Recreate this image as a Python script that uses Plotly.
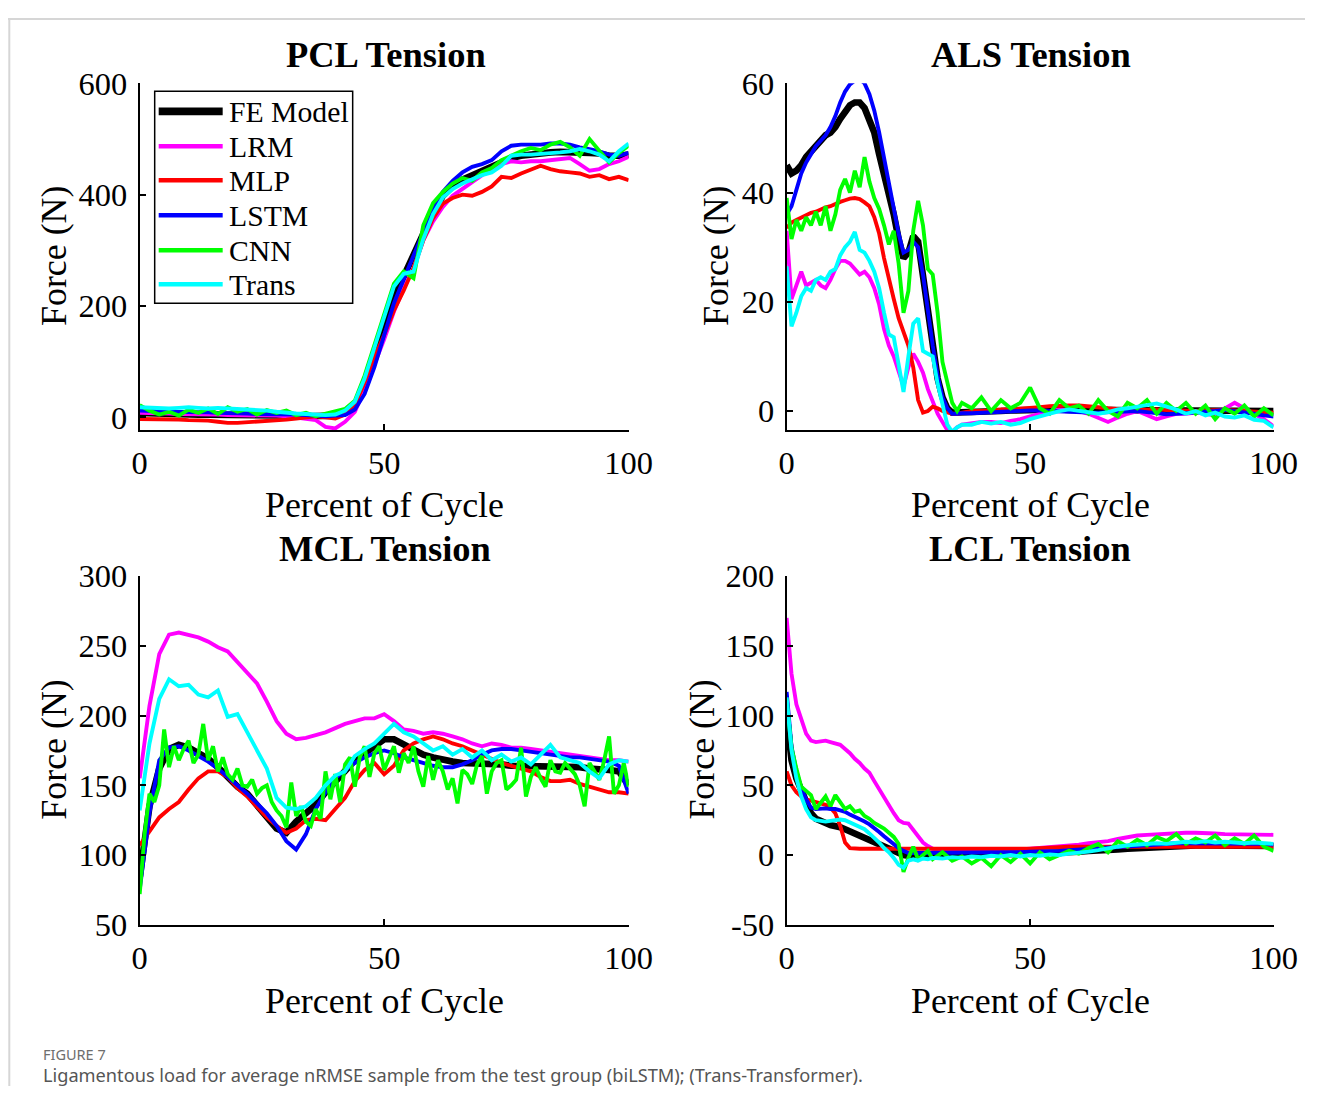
import plotly.graph_objects as go

W, H = 1329, 1104
# The photographed page shows the figure slightly scaled and offset; the
# layout positions below (measured on the reference, in pixels) are mapped
# through that fixed transform so they land where the reference has them.
SX, SY = 0.976, 0.968
AX, AY = 7.3, 17.6

series_names = ["FE Model", "LRM", "MLP", "LSTM", "CNN", "Trans"]
series_colors = ["#000000", "#ff00ff", "#ff0000", "#0000ff", "#00ff00", "#00ffff"]

# ---------------- PCL Tension ----------------
pcl_x = list(range(0, 101, 2))
pcl_fe = [8, 7, 7, 6, 6, 6, 5, 5, 5, 5, 4, 4, 4, 4, 4, 3, 3, 2, 2, 2, 3,
          8, 20, 55, 105, 155, 215, 255, 290, 330, 368,
          398, 415, 427, 435, 442, 450, 458, 466, 470, 473,
          475, 476, 477, 477, 476, 475, 474, 470, 470, 472]
pcl_lrm = [8, 8, 7, 7, 6, 6, 5, 5, 5, 4, 4, 4, 3, 3, 3, 2, 0, -3, -5, -17, -20,
           -8, 10, 50, 95, 140, 190, 232, 268, 318, 352,
           378, 398, 410, 422, 436, 447, 455, 460, 458, 460,
           460, 462, 464, 466, 455, 443, 446, 455, 460, 468]
pcl_mlp = [-3, -3, -4, -4, -4, -5, -5, -6, -8, -10, -10, -9, -8, -6, -5, -4, -2, 0, 2, 0, -2,
           5, 22, 62, 108, 148, 192, 228, 268, 318, 358,
           384, 394, 400, 398, 405, 415, 432, 430, 438, 445,
           452, 446, 442, 440, 438, 432, 435, 428, 432, 426]
pcl_lstm = [12, 12, 11, 10, 10, 10, 9, 9, 8, 8, 7, 7, 6, 6, 6, 5, 5, 4, 3, 2, 3,
            4, 14, 42, 90, 145, 205, 248, 290, 335, 375,
            405, 425, 440, 450, 455, 462, 478, 488, 490, 490,
            490, 492, 492, 490, 485, 482, 478, 472, 470, 475]
pcl_cnn = [22, 12, 5, 10, 3, 14, 8, 16, 6, 18, 10, 15, 5, 13, 8, 12, 4, 8, 2, 6, 10,
           15, 30, 75, 130, 185, 240, 262, 250, 345, 385,
           405, 420, 430, 425, 440, 448, 462, 470, 478, 484,
           480, 490, 495, 485, 470, 500, 480, 458, 475, 488]
pcl_trans = [18, 17, 16, 16, 17, 18, 17, 16, 17, 16, 15, 14, 14, 12, 10, 8, 7, 6, 5, 4, 5,
             12, 28, 70, 125, 180, 235, 258, 262, 320, 365,
             395, 410, 420, 428, 435, 440, 452, 470, 472, 472,
             473, 474, 476, 478, 482, 478, 472, 460, 478, 492]

# ---------------- ALS Tension ----------------
als_x = list(range(0, 37)) + list(range(38, 101, 2))
als_fe = [45, 43.5, 44, 45, 46.5, 47.5, 48.5, 49.5, 50.5, 51,
          52, 53.5, 55, 56, 56.5, 56.5, 55.5, 53.5, 51, 47,
          43.5, 39.5, 36, 31.5, 28, 29, 32, 31, 25, 17,
          11, 6, 2.5, 0.5, -0.3, -0.3, -0.2,
          -0.2, -0.1, 0, 0, 0.1, 0.2, 0.2, 0.3, 0.3, 0.3,
          0.2, 0.2, 0.1, 0.1, 0, 0, 0, 0, 0, 0,
          0, 0, 0, 0, 0, 0, 0, 0, 0, 0, 0, 0]
als_lrm = [33, 20.5, 23, 25.5, 23, 23.5, 24, 23, 22.5, 24,
           26, 27.5, 27.5, 27, 26, 25, 25.5, 24.5, 22.5, 19.5,
           15, 12, 10, 7, 4.5, 8, 10.5, 9, 7, 4,
           1.5, -0.5, -2, -3.5, -3.8, -3, -2.5,
           -2.3, -2, -2, -2.2, -1.8, -1.5, -1, -0.5, 0, 0.3,
           0.2, 0, -0.5, -1.3, -2, -1.2, -0.5, 0, -0.8, -1.5,
           -1, -0.5, -0.5, -0.3, -0.5, -0.8, 0.5, 1.5, 0.5, -0.5, -1.5, -2.8]
als_mlp = [33.5, 34.5, 35, 35.5, 36, 36.3, 36.5, 37, 37.3, 37.5,
           38, 38.3, 38.6, 38.9, 39, 38.8, 38.2, 37.5, 35.5, 32.5,
           28, 24, 20.5, 17, 14.5, 12, 8, 2, -0.3, 0,
           0.8, 0.5, 0, -0.3, -0.5, -0.5, -0.3,
           0, 0, 0.2, 0.3, 0.3, 0.4, 0.5, 0.7, 0.9, 1,
           1, 1, 0.9, 0.7, 0.5, 0.3, 0.2, 0.2, 0.3, 0.3,
           0.2, 0.1, 0, 0, 0.1, 0.2, 0.2, 0.1, 0, 0, -0.2, -0.3]
als_lstm = [36, 37.5, 40.5, 43.5, 45.5, 47, 48.5, 49.5, 50.5, 52,
            54, 56.5, 58.5, 59.8, 60.5, 60.8, 60, 58, 55, 51,
            46.5, 42, 37, 32.5, 29, 29.5, 31, 30, 25, 18,
            12, 6.5, 2.5, 0.5, -0.5, -0.5, -0.4,
            -0.4, -0.3, -0.2, -0.1, 0, 0, 0.1, 0.1, 0, 0,
            -0.1, -0.2, -0.3, -0.3, -0.2, -0.1, 0, 0, -0.2, -0.4,
            -0.6, -0.5, -0.4, -0.3, -0.2, 0, 0.2, 0, -0.3, -0.5, -0.8, -1]
als_cnn = [39, 31.5, 35, 33, 35.5, 34, 36.5, 34, 37.5, 33,
           36, 40.5, 42.5, 40, 44, 41, 46.5, 42, 39, 37,
           34, 30.5, 33, 27, 18, 22, 33, 38.5, 34, 26,
           25, 18, 9, 5, 1.5, 0, 1.5,
           0.5, 2.5, 0, 2, 0.5, 1.5, 4.3, 0.5, -0.5, 2,
           0.5, 1, -0.5, 2, 0, -1, 1.5, 0.5, 2, -0.5,
           1.5, 0, 1.5, -0.5, 1, -1.5, 0.5, -0.5, 1, -1, 0.5, -0.8]
als_trans = [26.5, 15.5, 18, 21, 22.5, 22, 24, 24.5, 24, 25.5,
             26, 28.5, 30, 31, 32.8, 29.5, 29, 27.5, 25.5, 22.5,
             18, 14, 13.5, 8, 3.5, 10, 16, 17, 11, 10.5,
             10, 5, 1, -2.5, -3.8, -3, -2.5,
             -2.5, -2, -2.3, -2, -2.5, -2.2, -1.5, -1, -0.5, 0,
             0.3, 0, -0.3, -0.5, -0.2, 0.3, 0.5, 0.8, 1, 1.4,
             0.8, 0.3, -0.5, 0, -0.8, -0.3, -1, -1.2, -0.8, -1.6, -1.8, -3]

# ---------------- MCL Tension ----------------
mcl_x = list(range(0, 101, 2))
mcl_fe = [84, 135, 162, 176, 179, 177, 173, 169, 163, 156,
          149, 144, 136, 127, 119, 116, 124, 130, 136, 145,
          153, 161, 168, 173, 178, 183, 183, 179, 175, 172,
          170, 168, 167, 166, 166, 165, 165, 165, 164, 164,
          164, 164, 163, 163, 163, 163, 162, 162, 161, 160, 150]
mcl_lrm = [155, 207, 244, 258, 259.5, 258, 256, 253, 249, 246,
           238, 230, 223, 210, 196, 187, 183, 184, 186, 188,
           191, 194, 196, 198, 198, 201, 196, 190, 189, 187,
           188, 187, 185, 183, 180, 178, 180, 179, 177, 177,
           176, 175, 174, 173, 172, 171, 170, 169, 168, 168, 167]
mcl_mlp = [107, 117, 127, 133, 138, 147, 155, 160, 160, 156,
           148, 142, 134, 127, 121, 116, 119, 125, 126, 125,
           133, 141, 153, 161, 166, 158, 164, 175, 180, 183,
           185, 183, 180, 178, 175, 172, 169, 166, 164, 162,
           160, 156, 153, 153, 154, 151, 149, 147, 145, 145, 144]
mcl_lstm = [75, 130, 168, 177, 178, 175, 171, 167, 162, 156,
            150, 144, 137, 130, 121, 110, 104, 115, 133, 145,
            155, 161, 166, 170, 173, 175, 173, 170, 168, 166,
            164, 163, 163, 165, 168, 172, 175, 176, 176, 175,
            174, 173, 172, 171, 170, 170, 169, 168, 167, 164, 144]
mcl_cnn_x = list(range(0, 101))
mcl_cnn = [72, 115, 144, 138, 150, 190, 163, 178, 168, 176,
           182, 166, 172, 194, 168, 178, 160, 170, 158, 154,
           162, 150, 149, 154, 144, 148, 150, 138, 132, 128,
           120, 152, 128, 135, 124, 121, 133, 126, 160, 140,
           158, 138, 165, 170, 149, 170, 178, 156, 173, 178,
           161, 170, 178, 159, 173, 166, 178, 160, 149, 171,
           154, 168, 160, 147, 155, 137, 161, 158, 151, 165,
           171, 144, 160, 166, 168, 147, 150, 154, 177, 142,
           156, 163, 155, 149, 168, 160, 159, 166, 162, 158,
           150, 135, 166, 160, 154, 168, 185, 144, 150, 166, 149]
mcl_trans = [132, 180, 212, 226, 221, 222, 215, 213, 218, 199,
             201, 188, 176, 162, 141, 134, 133, 135, 141, 150,
             157, 160, 171, 176, 180, 187, 194, 188, 185, 180,
             175, 178, 172, 176, 170, 175, 168, 172, 167, 170,
             165, 172, 179, 170, 168, 166, 160, 155, 165, 168, 167]

# ---------------- LCL Tension ----------------
lcl_x = list(range(0, 31)) + list(range(32, 101, 2))
lcl_fe = [101, 68, 55, 47, 37, 30, 26, 24, 23, 21.5,
          21, 20, 18.5, 17, 15.5, 14, 12.5, 11, 9.5, 8,
          6, 4.5, 2.5, 1, 0, -0.5, -1, -0.5, 0, 0, 0,
          0, 0, 0.5, 0.5, 0.5, 1, 1, 1, 1, 1,
          1, 1.5, 1.5, 2, 2.5, 3, 3, 3.5, 4, 4.5,
          5, 5.5, 6, 6, 6.5, 6.5, 7, 7, 7, 7,
          7, 7, 7, 7, 6.5]
lcl_lrm = [170, 130, 108, 97, 87, 82, 81, 81.5, 82, 81,
           80, 79, 76, 73, 69, 66, 62, 59, 53, 47,
           41, 36, 30, 25, 23, 22.5, 18, 13, 9, 6.5, 4.5,
           3.5, 3.5, 3.5, 3.5, 3.5, 3.5, 3.5, 3.8, 4, 4.5,
           5, 5.5, 6, 6.5, 7.5, 8.5, 9, 10, 11.5, 13,
           14, 14.5, 15, 15, 15.5, 16, 16, 16, 15.5, 15,
           15, 14.5, 14.5, 14.5, 14.5]
lcl_mlp = [60, 50, 45, 42, 40, 39, 38, 37, 36, 34,
           30, 21, 9, 5, 4.5, 4.5, 4.5, 4.5, 4.5, 4.5,
           4.5, 4.3, 4, 4, 4, 4, 4, 4, 4, 4, 4,
           4, 4, 4, 4, 4, 4, 4, 4, 4.2, 4.5,
           5, 5.5, 6, 6, 6, 6, 6, 6, 6, 6,
           6, 6, 6, 6, 6, 6, 6, 6, 6, 6,
           6, 6, 6, 6, 6]
lcl_lstm = [117, 78, 60, 48, 40, 34, 33, 33.5, 33.5, 33,
            33, 32, 31, 29, 27.5, 26, 24, 22, 19.5, 16.5,
            13.5, 10.5, 7.5, 5, 3, 1.5, 1.5, 1.5, 1.5, 1.5, 1.5,
            2, 2, 2, 2, 2, 2, 2, 2, 2, 2.5,
            2.5, 3, 3, 3.5, 4, 4.5, 5, 5.5, 6, 6.5,
            7, 7.5, 8, 8, 8.5, 8.5, 8.5, 8.5, 8.5, 8,
            8, 8, 8, 8, 7.5]
lcl_cnn = [112, 77, 62, 49, 46, 43, 33, 38, 42, 35,
           43, 38, 33, 35, 31, 32, 28, 26, 23, 21,
           19, 16, 13, 8, -12, -2, 6, -3, 0, 3, -3,
           2, -4, -1, -6, -2, -8, 0, -5, 1, -6,
           2, -3, 0, 3, 1, 5, 8, 2, 10, 6,
           11, 7, 13, 10, 15, 8, 12, 9, 14, 7,
           12, 8, 14, 6, 3]
lcl_trans = [113, 75, 55, 42, 33, 27, 25, 24.5, 24, 24.5,
             25, 25.5, 25, 23.5, 22, 20, 18.5, 15.5, 12.5, 9,
             5, 2, -2, -7, -9, -4, -3, -4, -2.5, -3, -2,
             -2.5, -1.5, -2, -1, -1.5, -0.5, -1, 0, -1, 0,
             -0.5, 0.5, 0, 1, 1.5, 2.5, 3.5, 5, 6, 7,
             7.5, 8, 8.5, 8, 9, 9.5, 9, 10, 9, 9.5,
             9, 8.5, 9, 8.5, 8]

# tick values / labels / ranges
x_ticks = [0, 50, 100]
x_ticklabels = ["0", "50", "100"]
pcl_yticks = [0, 200, 400, 600]
pcl_yticklabels = ["0", "200", "400", "600"]
als_yticks = [0, 20, 40, 60]
als_yticklabels = ["0", "20", "40", "60"]
mcl_yticks = [50, 100, 150, 200, 250, 300]
mcl_yticklabels = ["50", "100", "150", "200", "250", "300"]
lcl_yticks = [-50, 0, 50, 100, 150, 200]
lcl_yticklabels = ["-50", "0", "50", "100", "150", "200"]

panels = [
    dict(title="PCL Tension",
         xs=[pcl_x] * 6,
         ys=[pcl_fe, pcl_lrm, pcl_mlp, pcl_lstm, pcl_cnn, pcl_trans],
         yrange=[-23, 600], yticks=pcl_yticks, yticklabels=pcl_yticklabels),
    dict(title="ALS Tension",
         xs=[als_x] * 6,
         ys=[als_fe, als_lrm, als_mlp, als_lstm, als_cnn, als_trans],
         yrange=[-3.5, 60], yticks=als_yticks, yticklabels=als_yticklabels),
    dict(title="MCL Tension",
         xs=[mcl_x, mcl_x, mcl_x, mcl_x, mcl_cnn_x, mcl_x],
         ys=[mcl_fe, mcl_lrm, mcl_mlp, mcl_lstm, mcl_cnn, mcl_trans],
         yrange=[50, 300], yticks=mcl_yticks, yticklabels=mcl_yticklabels),
    dict(title="LCL Tension",
         xs=[lcl_x] * 6,
         ys=[lcl_fe, lcl_lrm, lcl_mlp, lcl_lstm, lcl_cnn, lcl_trans],
         yrange=[-50, 200], yticks=lcl_yticks, yticklabels=lcl_yticklabels),
]

# layout geometry (reference pixels)
col_px = [(139, 628), (786, 1273)]
row_px = [(83, 430), (576, 925)]
title_pos = [(385, 55), (1030, 55), (384, 549), (1029, 549)]
xtitle_pos = [(384, 505), (1030, 505), (384, 1001), (1030, 1001)]
ytitle_pos = [(54, 256), (716, 256), (53, 750), (701, 750)]
legend_box = (154, 91, 352, 303)
legend_rows = [111, 146, 180, 215, 250, 284]
legend_line_x = (158, 222)
legend_text_x = 226


def fx(px):
    return ((px - AX) / SX) / W


def fy(py):
    return 1 - ((py - AY) / SY) / H


K = 1.0 / SX  # size compensation for the photographed scale
SERIF = "Liberation Serif"
fig = go.Figure()

for i, p in enumerate(panels):
    ax = "" if i == 0 else str(i + 1)
    for k in range(6):
        fig.add_trace(go.Scatter(
            x=p["xs"][k], y=p["ys"][k], mode="lines",
            name=series_names[k],
            line=dict(color=series_colors[k], width=(6.5 if k == 0 else 3.8) * K),
            showlegend=False,
            xaxis="x" + ax, yaxis="y" + ax,
        ))
    c = i % 2
    r = i // 2
    common = dict(showgrid=False, zeroline=False, showline=True, linecolor="black",
                  linewidth=2, ticks="inside", ticklen=6, tickwidth=1.5,
                  tickcolor="black", mirror=False,
                  tickfont=dict(family=SERIF, size=32 * K * 0.99, color="black"))
    fig.layout["xaxis" + ax] = dict(
        domain=[fx(col_px[c][0]), fx(col_px[c][1])],
        range=[0, 100], tickmode="array", tickvals=x_ticks, ticktext=x_ticklabels,
        anchor="y" + ax, ticklabelstandoff=3, **common)
    fig.layout["yaxis" + ax] = dict(
        domain=[fy(row_px[r][1]), fy(row_px[r][0])],
        range=p["yrange"], tickmode="array", tickvals=p["yticks"], ticktext=p["yticklabels"],
        anchor="x" + ax, ticklabelstandoff=4, **common)

annotations = []
for i, p in enumerate(panels):
    tx, ty = title_pos[i]
    annotations.append(dict(text=p["title"], x=fx(tx), y=fy(ty), xref="paper", yref="paper",
                            showarrow=False, xanchor="center", yanchor="middle",
                            font=dict(family=SERIF, size=35.6 * K, color="black", weight="bold")))
    ax_, ay_ = xtitle_pos[i]
    annotations.append(dict(text="Percent of Cycle", x=fx(ax_), y=fy(ay_), xref="paper", yref="paper",
                            showarrow=False, xanchor="center", yanchor="middle",
                            font=dict(family=SERIF, size=35 * K, color="black")))
    bx, by = ytitle_pos[i]
    annotations.append(dict(text="Force (N)", x=fx(bx), y=fy(by), xref="paper", yref="paper",
                            showarrow=False, xanchor="center", yanchor="middle", textangle=-90,
                            font=dict(family=SERIF, size=35 * K, color="black")))

shapes = [
    dict(type="line", xref="paper", yref="paper", x0=0.0, x1=1, y0=0.999, y1=0.999,
         line=dict(color="#d6d6d6", width=2)),
    dict(type="line", xref="paper", yref="paper", x0=0.001, x1=0.001, y0=0.999, y1=0,
         line=dict(color="#d6d6d6", width=2)),
    dict(type="rect", xref="paper", yref="paper",
         x0=fx(legend_box[0]), x1=fx(legend_box[2]), y0=fy(legend_box[3]), y1=fy(legend_box[1]),
         line=dict(color="black", width=1.5), fillcolor="white", layer="above"),
]

# legend (drawn on top of the PCL panel)
for k, name in enumerate(series_names):
    ry = legend_rows[k]
    shapes.append(dict(type="line", xref="paper", yref="paper",
                       x0=fx(legend_line_x[0]), x1=fx(legend_line_x[1]), y0=fy(ry), y1=fy(ry),
                       line=dict(color=series_colors[k], width=(7.5 if k == 0 else 4.5) * K),
                       layer="above"))
    annotations.append(dict(text=name, x=fx(legend_text_x), y=fy(ry + 1), xref="paper", yref="paper",
                            showarrow=False, xanchor="left", yanchor="middle",
                            font=dict(family=SERIF, size=29 * K, color="black")))

annotations.append(dict(text="FIGURE 7", x=fx(40), y=fy(1054), xref="paper", yref="paper",
                        showarrow=False, xanchor="left", yanchor="middle",
                        font=dict(family="Noto Sans", size=14.5, color="#6e6e6e")))
annotations.append(dict(text="Ligamentous load for average nRMSE sample from the test group (biLSTM); (Trans-Transformer).",
                        x=fx(40), y=fy(1075), xref="paper", yref="paper",
                        showarrow=False, xanchor="left", yanchor="middle",
                        font=dict(family="Noto Sans", size=18.2, color="#555555")))

fig.update_layout(
    width=W, height=H,
    margin=dict(l=0, r=0, t=0, b=0),
    paper_bgcolor="white", plot_bgcolor="white",
    annotations=annotations, shapes=shapes,
    showlegend=False,
)

fig.write_html("out.html")
